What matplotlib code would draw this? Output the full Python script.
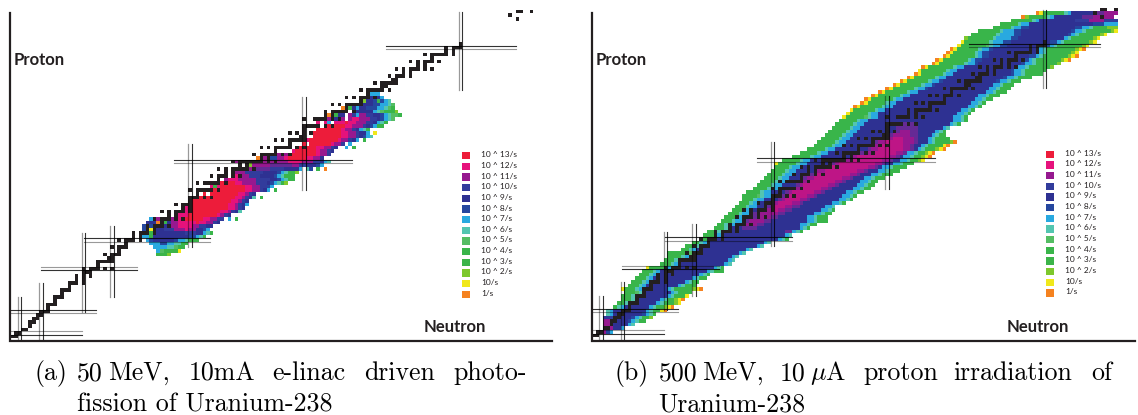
import numpy as np
import matplotlib
matplotlib.use('Agg')
import matplotlib.pyplot as plt
from matplotlib.colors import LinearSegmentedColormap, ListedColormap
from matplotlib.patches import Rectangle

W, H = 1138, 415

legend_labels = ['10 ^ 13/s', '10 ^ 12/s', '10 ^ 11/s', '10 ^ 10/s', '10 ^ 9/s', '10 ^ 8/s', '10 ^ 7/s',
                 '10 ^ 6/s', '10 ^ 5/s', '10 ^ 4/s', '10 ^ 3/s', '10 ^ 2/s', '10/s', '1/s']
legend_colors = ['#ED1C3A', '#E6127C', '#96188F', '#323C9C', '#2E3192', '#25479F', '#29A9E0',
                 '#53C5B0', '#54BD63', '#39B54A', '#3BB449', '#7DC82D', '#F0E81A', '#F58220']

# stable nuclides, Z: neutron numbers
stable = {
    1: [0, 1], 2: [1, 2], 3: [3, 4], 4: [5], 5: [5, 6], 6: [6, 7], 7: [7, 8], 8: [8, 9, 10], 9: [10],
    10: [10, 11, 12], 11: [12], 12: [12, 13, 14], 13: [14], 14: [14, 15, 16], 15: [16], 16: [16, 17, 18, 20],
    17: [18, 20], 18: [18, 20, 22], 19: [20, 21, 22], 20: [20, 22, 23, 24, 26, 28], 21: [24],
    22: [24, 25, 26, 27, 28], 23: [27, 28], 24: [26, 28, 29, 30], 25: [30], 26: [28, 30, 31, 32], 27: [32],
    28: [30, 32, 33, 34, 36], 29: [34, 36], 30: [34, 36, 37, 38, 40], 31: [38, 40], 32: [38, 40, 41, 42, 44],
    33: [42], 34: [40, 42, 43, 44, 46, 48], 35: [44, 46], 36: [42, 44, 46, 47, 48, 50], 37: [48, 50],
    38: [46, 48, 49, 50], 39: [50], 40: [50, 51, 52, 54, 56], 41: [52], 42: [50, 52, 53, 54, 55, 56, 58],
    44: [52, 54, 55, 56, 57, 58, 60], 45: [58], 46: [56, 58, 59, 60, 62, 64], 47: [60, 62],
    48: [58, 60, 62, 63, 64, 65, 66, 68], 49: [64, 66], 50: [62, 64, 65, 66, 67, 68, 69, 70, 72, 74],
    51: [70, 72], 52: [68, 70, 71, 72, 73, 74, 76, 78], 53: [74], 54: [70, 72, 74, 75, 76, 77, 78, 80, 82],
    55: [78], 56: [74, 76, 78, 79, 80, 81, 82], 57: [81, 82], 58: [78, 80, 82, 84], 59: [82],
    60: [82, 83, 84, 85, 86, 88, 90], 62: [82, 85, 86, 87, 88, 90, 92], 63: [88, 90],
    64: [88, 90, 91, 92, 93, 94, 96], 65: [94], 66: [90, 92, 94, 95, 96, 97, 98], 67: [98],
    68: [94, 96, 98, 99, 100, 102], 69: [100], 70: [98, 100, 101, 102, 103, 104, 106], 71: [104, 105],
    72: [102, 104, 105, 106, 107, 108], 73: [107, 108], 74: [106, 108, 109, 110, 112], 75: [110, 112],
    76: [108, 110, 112, 113, 114, 116, 118], 77: [114, 116], 78: [112, 114, 116, 117, 118, 120], 79: [118],
    80: [116, 118, 119, 120, 121, 122, 124], 81: [122, 124], 82: [122, 124, 125, 126], 83: [126],
    90: [142], 91: [140], 92: [142, 143, 146],
}

# magic number lines: (magic number, from, to)
magic_z = [(2, -1, 19.5), (8, -1, 23.5), (20, 8, 35), (28, 20, 55.5), (50, 45.5, 95.5), (82, 105, 141.5)]
magic_n = [(2, -1, 12), (8, -1, 16), (20, 8, 30), (28, 12, 32), (50, 26, 55), (82, 42, 68), (126, 70, 92)]

# rate per nuclide, Z: (first N, 'level:count ...'), x = no data, A/B/C = half levels 10.5/11.5/12.5
rates_a = {
    24: (41, '3:3 2:1'),
    25: (41, '7:1 5:1 3:4 1:1'),
    26: (40, '7:4 6:2 5:1 4:2'),
    27: (39, '7:3 8:2 7:2 6:2 4:2'),
    28: (38, '7:1 8:1 9:6 8:1 7:2 6:1 4:3'),
    29: (37, '7:2 4:1 9:10 8:2 7:1 6:1 4:1'),
    30: (37, '8:2 4:1 9:9 a:3 9:2 7:1 6:1 4:1'),
    31: (37, '8:2 1:1 9:3 a:3 b:3 c:1 b:2 9:2 8:1 7:1'),
    32: (37, '8:3 b:2 9:2 b:3 c:4 b:2 a:2 9:2'),
    33: (38, '9:3 0:1 9:1 4:1 9:1 b:2 c:5 d:1 c:2 b:2 a:1 9:1'),
    34: (39, '7:1 9:1 b:2 9:2 b:1 c:3 d:5 c:2 b:2 a:2 x:1 7:1 x:1 4:1'),
    35: (46, 'b:1 c:3 d:8 c:1 b:1 a:1 9:1'),
    36: (47, 'b:1 c:2 d:9 c:2 b:1 a:1 9:1 6:1'),
    37: (49, 'c:1 d:11 c:2 b:1 a:1 9:1'),
    38: (50, 'c:1 d:10 c:2 b:1 a:1 9:1 7:1'),
    39: (51, 'd:11 c:2 b:1 a:1 9:1'),
    40: (51, 'c:1 d:11 c:2 b:1 a:1 9:1 6:1 x:1 4:1'),
    41: (52, 'd:1 x:1 d:1 x:1 d:8 c:2 b:1 a:1 9:1'),
    42: (56, 'c:1 d:9 c:2 b:2 a:1 9:1 7:1 x:1 4:1'),
    43: (56, 'c:1 4:1 c:1 d:7 c:2 b:2 a:2 8:1 7:1'),
    44: (58, 'c:1 d:4 c:2 b:4 a:3 9:1 8:1 7:1 6:1 4:1 2:1'),
    45: (60, 'b:1 c:3 b:5 a:4 9:2 8:1 7:1 6:1 4:2'),
    46: (62, 'b:1 c:1 b:3 a:3 9:4 8:1 7:1 6:1 4:3'),
    47: (63, 'b:3 a:5 9:4 8:1 7:1 6:1 4:2 2:1'),
    48: (64, 'b:4 A:5 a:4 9:4 7:1 x:1 6:1 8:1 x:1 4:1 x:1 0:1'),
    49: (67, '2:1 b:5 A:6 b:2 a:2 9:3 8:1 7:1'),
    50: (62, 'b:13 b:3 c:4 b:3 a:2 9:1 7:1 6:1'),
    51: (69, '0:1 x:1 b:1 x:1 8:2 b:2 c:1 d:5 c:2 b:2 9:1'),
    52: (72, 'b:1 x:1 a:1 b:1 a:1 b:1 c:1 d:7 c:1 b:2 a:1'),
    53: (79, 'c:1 d:6 c:1 b:2 a:1 9:1'),
    54: (80, 'd:6 c:2 b:2 a:1 9:1 x:2 7:1 x:1 4:1'),
    55: (82, 'd:1 x:1 d:6 c:1 b:2 a:1 x:1 7:1'),
    56: (83, 'c:1 d:8 c:1 b:2 a:1 9:1 7:1 x:1 4:1'),
    57: (85, 'd:8 c:2 b:2 a:1 9:1 8:1 7:1 6:1'),
    58: (85, 'd:8 c:2 b:2 a:1 9:2 7:1 x:1 1:1'),
    59: (86, 'd:7 c:1 b:2 a:1 9:1 7:1 6:1 4:1'),
    60: (88, 'c:1 d:5 c:2 b:3 a:1 9:1 8:1 7:1 4:2'),
    61: (86, 'c:1 x:1 c:1 7:1 x:1 c:3 d:1 c:2 b:3 a:2 9:1 7:1 6:1 4:1'),
    62: (88, 'c:1 b:1 9:3 b:1 x:1 b:1 c:2 b:3 a:2 9:1 8:1 7:1 6:1 5:1'),
    63: (89, '0:1 x:1 4:1 9:2 x:1 b:1 a:1 7:1 b:2 a:2 9:2 8:1 7:1 6:1 5:2 4:1'),
    64: (97, '9:5 7:1 6:1 5:1 4:3 2:1'),
    65: (93, '0:1 x:1 4:1 9:1 7:1 9:2 8:3 7:2 6:1 5:1 4:1'),
    66: (99, '9:3 8:2 7:2 6:1 5:1'),
    67: (99, '2:1 9:2 8:1 4:1 8:1 7:1 6:1'),
    68: (100, '9:4 7:1'),
    69: (101, '7:3'),
}

rates_b = {
    2: (3, 'b:1 8:1 7:1'),
    3: (3, 'b:3 9:2 7:1'),
    4: (3, 'b:3 9:4 7:1 6:1'),
    5: (3, 'b:2 9:5 8:1 7:1 6:1 4:2'),
    6: (3, 'a:5 9:3 8:1 7:1 6:1 4:2 2:1'),
    7: (4, '6:1 7:1 9:8 8:1 7:1 6:1 4:1'),
    8: (4, '6:1 7:1 9:9 7:1 6:1 4:2 1:1 0:1'),
    9: (6, '4:1 6:1 7:1 9:7 7:1 6:1 4:2 2:1 1:1 0:1'),
    10: (7, '4:2 6:1 7:1 9:7 7:1 6:1 4:3 2:1 1:1'),
    11: (8, '4:3 6:1 7:1 9:6 7:1 6:1 4:2 2:1 1:1 0:1'),
    12: (8, '3:3 6:1 7:1 9:8 7:1 6:1 4:3 1:1'),
    13: (9, '4:3 5:1 6:1 7:1 9:7 7:1 6:1 4:4'),
    14: (8, '1:1 4:3 6:1 7:1 9:7 7:1 6:1 4:4 3:1 2:1 1:1 0:1'),
    15: (10, '4:3 6:1 7:1 9:9 7:1 6:1 4:3'),
    16: (11, '4:3 6:1 7:1 9:10 7:1 6:1 4:2'),
    17: (12, '4:3 6:1 7:1 9:11 7:1 6:1 4:2'),
    18: (13, '4:3 6:1 7:1 9:12 7:1 6:1 4:1'),
    19: (14, '4:3 6:1 7:1 9:13 7:1 6:1 4:3'),
    20: (15, '1:1 4:4 6:1 7:1 9:12 7:1 6:1 4:1'),
    21: (19, '4:3 6:1 7:1 9:13 7:1 6:1'),
    22: (20, '4:3 6:1 7:1 9:13 7:1 6:1'),
    23: (21, '4:4 6:1 7:1 9:12 7:1 6:1'),
    24: (21, '4:6 5:1 6:1 7:1 9:11 7:1 6:1'),
    25: (25, '4:2 6:1 7:1 9:14 7:1 6:1'),
    26: (26, '4:3 6:1 7:1 9:15 7:1 6:1'),
    27: (28, '4:2 6:1 7:1 9:16 7:1 6:1'),
    28: (30, '4:2 6:1 7:1 9:18 7:1 6:1 4:1'),
    29: (31, '4:3 6:1 7:1 9:18 7:1 6:1'),
    30: (32, '4:3 6:1 7:1 9:17 A:2 7:1 6:1 4:1'),
    31: (34, '4:3 6:1 7:1 9:3 A:4 9:12 7:1 6:1 4:1'),
    32: (35, '4:2 6:1 7:2 A:2 b:4 A:2 9:10 7:2 6:1 4:2'),
    33: (36, '4:3 6:1 7:2 A:2 b:4 A:2 9:10 7:2 6:1 4:3'),
    34: (37, '4:3 6:1 7:2 9:1 A:2 b:4 A:2 9:8 7:2 6:1 4:3'),
    35: (38, '4:3 6:1 7:2 9:1 A:2 b:5 A:2 9:8 7:2 6:1 4:2'),
    36: (39, '4:3 6:1 7:2 9:1 A:2 b:2 B:2 b:2 A:2 9:8 7:2 6:1 4:1'),
    37: (40, '4:3 6:1 7:2 9:2 A:2 b:1 B:3 b:2 A:2 9:7 7:2 6:1'),
    38: (41, '4:3 6:1 7:2 9:3 A:1 b:1 B:4 b:2 A:1 9:8 7:2 6:1 4:1'),
    39: (42, '4:3 6:1 7:2 9:4 A:1 b:1 B:4 b:2 A:1 9:8 7:2 6:1 4:1'),
    40: (42, '4:4 5:1 6:1 7:2 9:3 A:1 b:1 B:5 b:2 A:1 9:7 7:2 6:1 4:1'),
    41: (43, '4:4 6:1 7:2 9:4 A:1 b:1 B:6 b:2 A:1 9:6 7:2 6:1 4:2'),
    42: (45, '4:4 6:1 7:2 9:3 A:1 b:2 B:6 b:2 A:1 9:6 7:2 6:1 4:2'),
    43: (46, '4:4 6:1 7:2 9:4 A:1 b:1 B:7 b:2 A:1 9:5 7:2 6:1 4:2'),
    44: (47, '4:4 6:1 7:2 9:4 A:1 b:1 B:8 b:2 A:1 9:4 7:2 6:1 4:2'),
    45: (48, '4:4 6:1 7:2 9:4 A:1 b:2 B:8 b:2 A:1 9:3 7:2 6:1 4:3'),
    46: (49, '4:4 6:1 7:2 9:5 A:1 b:1 B:9 b:2 A:1 9:3 7:2 6:1 4:3'),
    47: (50, '4:4 6:1 7:2 9:5 A:1 b:2 B:9 b:2 A:1 9:3 7:2 6:1 4:3'),
    48: (51, '4:4 6:1 7:2 9:6 A:1 b:2 B:10 b:2 A:1 9:1 7:2 6:1 4:4'),
    49: (51, '1:1 4:5 6:1 7:2 9:7 A:1 b:1 B:10 b:2 A:1 9:2 7:2 6:1 4:3'),
    50: (53, '4:5 6:1 7:2 9:8 A:1 b:2 B:9 b:2 A:1 9:2 7:2 6:1 4:2 2:1 1:1'),
    51: (56, '4:5 6:1 7:2 9:8 A:1 b:1 B:9 b:2 A:1 9:1 7:2 6:1 4:2 2:1 1:1 0:1'),
    52: (58, '4:5 6:1 7:2 9:9 A:1 b:2 B:7 b:2 A:1 7:2 6:1 4:2 2:1 1:1 0:1'),
    53: (60, '4:5 6:1 7:2 9:9 A:1 b:2 B:7 b:2 A:1 9:1 7:1 6:1 4:3 2:1 1:1 0:1'),
    54: (62, '4:5 6:1 7:2 9:8 A:1 b:2 B:6 b:2 A:1 9:2 7:1 6:1 4:4 1:1 0:1'),
    55: (63, '4:5 6:1 7:2 9:8 A:1 b:2 B:5 b:3 A:1 9:3 7:1 6:1 4:4 2:1 0:1'),
    56: (64, '4:5 6:1 7:2 9:9 A:1 b:2 B:3 b:3 A:1 9:3 7:1 6:1 4:4'),
    57: (65, '4:5 6:1 7:2 9:9 A:2 b:5 A:2 9:4 7:1 6:1 4:2'),
    58: (66, '4:5 6:1 7:2 9:10 A:2 b:3 A:2 9:5 7:1 6:1 4:1'),
    59: (67, '4:5 6:1 7:2 9:10 A:6 9:7 7:1 6:1'),
    60: (68, '4:5 6:1 7:2 9:9 A:5 9:10 7:1 6:1 4:1'),
    61: (69, '4:5 6:1 7:2 9:24 7:2 6:1 4:1'),
    62: (70, '1:1 4:5 5:1 6:1 7:2 9:21 7:2 6:1 4:1'),
    63: (71, '1:1 4:5 6:1 7:2 9:22 7:2 6:1 4:1'),
    64: (72, '1:1 4:6 6:1 7:2 9:21 7:2 6:1 4:1'),
    65: (73, '0:1 1:1 4:6 6:1 7:2 9:21 7:2 6:1 4:1'),
    66: (75, '0:1 1:1 4:5 6:1 7:2 9:21 7:2 6:1 4:1'),
    67: (76, '0:1 1:1 4:6 6:1 7:2 9:20 7:2 6:1 4:2'),
    68: (78, '0:1 1:1 4:6 6:1 7:2 9:19 7:2 6:1 4:3'),
    69: (80, '0:1 1:1 4:6 6:1 7:2 9:19 7:2 6:1 4:3'),
    70: (82, '0:1 1:1 4:6 6:1 7:2 8:1 9:17 7:2 6:1 4:3'),
    71: (84, '0:1 1:1 4:6 6:1 7:2 8:1 9:16 7:2 6:1 4:3'),
    72: (86, '0:1 1:1 4:6 6:1 7:2 8:1 9:15 8:1 7:2 6:1 4:3'),
    73: (88, '0:1 1:1 4:6 6:1 7:2 9:16 8:1 7:2 6:1 4:4'),
    74: (90, '0:1 1:1 4:6 6:1 7:2 9:16 8:1 7:2 6:1 4:5'),
    75: (91, '1:1 4:7 6:1 7:2 9:15 8:1 7:2 6:1 4:6'),
    76: (92, '0:1 1:1 4:7 6:1 7:2 9:14 8:1 7:2 6:1 4:6 2:1'),
    77: (95, '0:1 1:1 4:7 6:1 7:2 8:1 9:12 8:1 7:2 6:1 4:6 2:1'),
    78: (96, '0:1 1:1 4:7 6:1 7:1 8:2 9:11 8:2 7:1 6:1 4:7 2:1 1:1 0:1'),
    79: (98, '0:1 1:1 4:7 6:1 7:1 8:2 9:11 8:2 7:1 6:1 4:7 2:1 1:1 0:1'),
    80: (99, '0:1 1:1 4:6 6:1 7:1 8:2 9:13 8:1 7:1 6:1 4:7 2:1 1:1'),
    81: (100, '0:1 1:1 4:6 6:1 7:2 8:1 9:12 8:1 7:1 6:1 4:8 2:1 1:1 0:1'),
    82: (102, '1:1 4:7 5:1 6:1 7:2 8:2 9:11 8:1 7:1 6:1 4:7 2:1 1:1'),
    83: (103, '1:1 4:7 6:1 7:3 8:2 9:11 8:2 7:1 6:1 4:7 2:1 1:1'),
    84: (104, '2:1 4:7 6:1 7:4 8:2 9:13 7:1 6:1 4:6 2:1 1:1'),
    85: (106, '4:7 6:1 7:4 8:2 9:13 8:1 7:1 6:1 4:6 2:1 1:1'),
    86: (108, '4:6 6:1 7:3 8:2 9:14 8:1 7:2 6:1 4:7 2:1 1:1'),
    87: (112, '4:5 6:1 7:2 8:2 9:13 8:2 7:2 6:1 4:4 2:3'),
    88: (114, '4:5 6:1 7:2 9:18 8:3 7:4'),
    89: (117, '4:6 6:1 7:1 9:10 a:4 b:4 a:4'),
    90: (120, '0:1 2:1 4:5 6:1 7:1 9:8 A:3 b:6'),
    91: (124, '0:1 1:1 4:6 6:1 7:1 9:7 A:2 b:4'),
}

# caption words with their left edge in figure pixels
caption_words = ['(a)', '50', 'MeV,', '10mA', 'e-linac', 'driven', 'photo-',
                 '(b)', '500', 'MeV,', '10', '$\\mu$A', 'proton', 'irradiation', 'of']
caption_x = [35, 76.7, 108.3, 188.3, 272.7, 364.3, 453.3,
             615, 658.3, 701.7, 780, 810, 863.3, 953.3, 1091.7]
caption_lines2 = [(76.7, 'fission of Uranium-238'), (658.3, 'Uranium-238')]

level_of = {c: i for i, c in enumerate('0123456789abcd')}
level_of.update({'A': 10.5, 'B': 11.5, 'C': 12.5, 'x': np.nan})

rate_cmap = LinearSegmentedColormap.from_list('rate', legend_colors[::-1], N=512)
black_cmap = ListedColormap(['#231F20'])
INK = '#231F20'


def rate_grid(rates):
    grid = np.full((94, 152), np.nan)
    for z, (first, runs) in rates.items():
        n = first
        for run in runs.split():
            code, count = run.split(':')
            grid[z, n:n + int(count)] = level_of[code]
            n += int(count)
    return np.ma.masked_invalid(grid)


def stable_grid():
    grid = np.full((94, 152), np.nan)
    for z, ns in stable.items():
        grid[z, ns] = 1
    return np.ma.masked_invalid(grid)


def px_axes(fig, x0, x1, y_top, y_bot):
    return fig.add_axes([x0 / W, 1 - y_bot / H, (x1 - x0) / W, (y_bot - y_top) / H])


def chart(fig, rates, px_left, px_right, n_x0, n_dx, z_y0, z_dy):
    # n_x0 + n_dx * N and z_y0 - z_dy * Z are the cell centres in figure pixels
    ax = px_axes(fig, px_left, px_right, 3, z_y0 + 1)
    ax.set_xlim((px_left - n_x0) / n_dx, (px_right - n_x0) / n_dx)
    ax.set_ylim(1 / -z_dy, (z_y0 - 3) / z_dy)
    ax.axis('off')
    ne = np.arange(153) - 0.5
    ze = np.arange(95) - 0.5
    ax.pcolormesh(ne, ze, rate_grid(rates), cmap=rate_cmap, vmin=0, vmax=13, linewidth=0)
    ax.pcolormesh(ne, ze, stable_grid(), cmap=black_cmap, vmin=0, vmax=2, linewidth=0)
    for z, a, b in magic_z:
        top_dark = z not in (2, 20)
        ax.plot([a, b], [z + 0.5, z + 0.5], color='black', alpha=0.8 if top_dark else 0.4, lw=0.8)
        ax.plot([a, b], [z - 0.5, z - 0.5], color='black', alpha=0.4 if top_dark else 0.8, lw=0.8)
    for n, a, b in magic_n:
        ax.plot([n - 0.5, n - 0.5], [a, b], color='black', alpha=0.4, lw=0.9)
        ax.plot([n + 0.5, n + 0.5], [a, b], color='black', alpha=0.8, lw=0.8)
    return ax


fig = plt.figure(figsize=(W / 100, H / 100), dpi=100, facecolor='white')
chart(fig, rates_a, 10, 560, 12.5, 3.555, 340.1, 3.57)
chart(fig, rates_b, 592, 1136, 593.8, 3.578, 339.0, 3.58)

# overlay in figure pixels for axes lines, legends and captions
ov = fig.add_axes([0, 0, 1, 1])
ov.set_xlim(0, W)
ov.set_ylim(H, 0)
ov.axis('off')
ov.patch.set_alpha(0)

label_font = ['Lato', 'DejaVu Sans']
for left, right, sq_x, text_x, leg_y0, proton_x, neutron_x in [
        (10, 552, 466, 481, 155.7, 14, 424),
        (592, 1135, 1050, 1065, 154.3, 596, 1007)]:
    ov.plot([left, left, right], [13, 340.5, 340.5], color=INK, lw=1.6, solid_joinstyle='miter')
    ov.text(proton_x, 60, 'Proton', fontsize=12, fontweight='bold', family=label_font, color=INK,
            va='center', ha='left')
    ov.text(neutron_x, 327, 'Neutron', fontsize=12, fontweight='bold', family=label_font, color=INK,
            va='center', ha='left')
    for i, (lab, col) in enumerate(zip(legend_labels, legend_colors)):
        y = leg_y0 + i * 10.66
        ov.add_patch(Rectangle((sq_x - 3.7, y - 3.7), 7.4, 7.4, facecolor=col, edgecolor='none'))
        ov.text(text_x, y - 1, lab, fontsize=6, family=label_font, color=INK, va='center', ha='left')

plt.rcParams['mathtext.fontset'] = 'cm'
cap = dict(fontsize=18.6, family='cmr10', color='black', va='baseline', ha='left')
for word, x in zip(caption_words, caption_x):
    ov.text(x, 380, word, **cap)
for x, line in caption_lines2:
    ov.text(x, 411.5, line, **cap)

fig.savefig('out.png', dpi=100)
